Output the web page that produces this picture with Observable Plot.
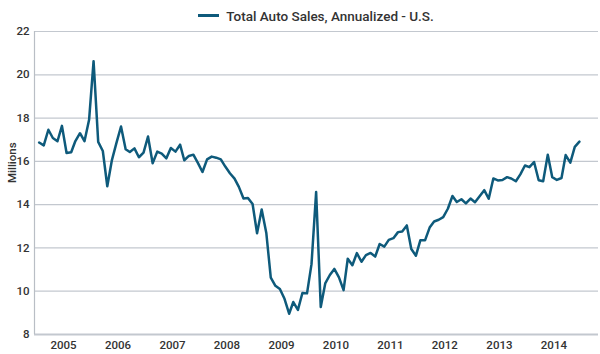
<!DOCTYPE html>
<html>
<head>
<meta charset="utf-8">
<script src="https://cdn.jsdelivr.net/npm/d3@7"></script>
<script src="https://cdn.jsdelivr.net/npm/@observablehq/plot@0.6"></script>
<style>
  html, body { margin: 0; padding: 0; background: #fff; }
  #wrap { width: 600px; height: 354px; overflow: hidden; font-family: Roboto, "Noto Sans", sans-serif; }
  #legend { height: 24px; box-sizing: border-box; padding-left: 34px; padding-right: 2px;
            display: flex; justify-content: center; align-items: center; padding-top: 7px;
            font-size: 13.5px; font-weight: 500; color: #333; }
  #legend .sw { display: inline-block; width: 21px; height: 3px; background: #0e5a7b; margin-right: 7px; }
</style>
</head>
<body>
<div id="wrap">
  <div id="legend"><span class="sw"></span><span id="legendText"></span></div>
  <div id="chart"></div>
</div>
<script>
// Series: Total Auto Sales, Annualized - U.S. (millions), monthly from July 2004 to June 2014
const seriesName = "Total Auto Sales, Annualized - U.S.";
const firstMonth = { year: 2004, month: 7 };
const sales = [
  16.87, 16.74, 17.46, 17.08, 16.93, 17.64,
  16.39, 16.42, 16.94, 17.30, 16.93, 17.92, 20.63, 16.90, 16.48, 14.85, 16.06, 16.84,
  17.61, 16.56, 16.43, 16.60, 16.19, 16.40, 17.15, 15.91, 16.45, 16.36, 16.14, 16.62,
  16.45, 16.77, 16.05, 16.25, 16.31, 15.92, 15.51, 16.09, 16.22, 16.17, 16.09, 15.76,
  15.45, 15.20, 14.82, 14.28, 14.31, 14.03, 12.68, 13.78, 12.69, 10.63, 10.25, 10.10,
  9.65, 8.96, 9.50, 9.14, 9.92, 9.90, 11.25, 14.58, 9.27, 10.36, 10.75, 11.03,
  10.64, 10.05, 11.50, 11.20, 11.76, 11.36, 11.67, 11.77, 11.60, 12.18, 12.06, 12.37,
  12.45, 12.73, 12.76, 13.04, 11.95, 11.64, 12.36, 12.35, 12.94, 13.22, 13.30, 13.42,
  13.81, 14.40, 14.12, 14.25, 14.06, 14.28, 14.11, 14.39, 14.67, 14.27, 15.21, 15.12,
  15.14, 15.27, 15.21, 15.08, 15.40, 15.81, 15.73, 15.97, 15.13, 15.08, 16.31, 15.27,
  15.14, 15.23, 16.29, 15.94, 16.67, 16.91
];
const yearLabels = ["2005","2006","2007","2008","2009","2010","2011","2012","2013","2014"];
const yTicks = [8, 10, 12, 14, 16, 18, 20, 22];
const yLabel = "Millions";

const data = sales.map((v, i) => ({
  date: new Date(Date.UTC(firstMonth.year, firstMonth.month - 1 + i, 1)),
  value: v
}));
const yearTicks = yearLabels.map(y => new Date(Date.UTC(+y, 0, 1)));

document.getElementById("legendText").textContent = seriesName;

const lineColor = "#0e5a7b";
const chart = Plot.plot({
  width: 600,
  height: 330,
  marginLeft: 34,
  marginRight: 2,
  marginTop: 7,
  marginBottom: 20,
  style: { fontFamily: "Roboto, 'Noto Sans', sans-serif", fontSize: "11.5px", color: "#333", background: "#fff", overflow: "visible" },
  x: { type: "utc", domain: [new Date(Date.UTC(2004, 4, 31)), new Date(Date.UTC(2014, 9, 7))] },
  y: { domain: [8, 22] },
  marks: [
    Plot.gridY(yTicks.slice(1), { stroke: "#c3c8cf", strokeOpacity: 1, strokeWidth: 1.2 }),
    Plot.ruleY([8], { stroke: "#c3c8cf", strokeWidth: 2 }),
    Plot.ruleX([new Date(Date.UTC(2004, 4, 31))], { stroke: "#b9bec5", strokeWidth: 1.2 }),
    Plot.axisY(yTicks, { tickSize: 0, tickPadding: 5, label: null, fontWeight: 500, fill: "#333" }),
    Plot.text([yLabel], { frameAnchor: "left", dx: -22, rotate: -90, fontWeight: 500, fill: "#333", fontSize: 11.5 }),
    Plot.axisX(yearTicks, { tickSize: 0, tickPadding: 6, tickFormat: "%Y", label: null, dx: -3, fontWeight: 500, fill: "#333" }),
    Plot.lineY(data, { x: "date", y: "value", stroke: lineColor, strokeWidth: 2.5, strokeLinejoin: "round" })
  ]
});
document.getElementById("chart").appendChild(chart);
</script>
</body>
</html>
